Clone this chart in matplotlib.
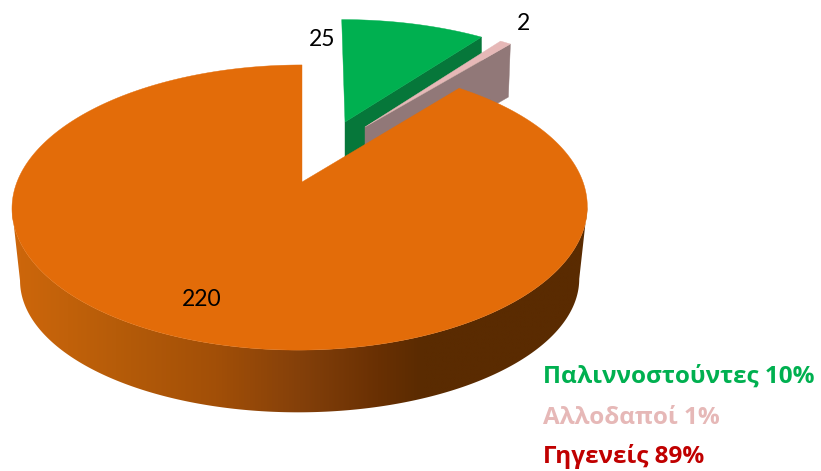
import numpy as np
import matplotlib
matplotlib.use("Agg")
import matplotlib.pyplot as plt
from matplotlib.colors import LinearSegmentedColormap
from matplotlib.patches import Polygon

# ---- data ----
series_names = ["Παλιννοστούντες", "Αλλοδαποί", "Γηγενείς"]
series_values = [25, 2, 220]
series_shares = ["10%", "1%", "89%"]

# ---- style ----
TOP = ["#00B050", "#E6B8B7", "#E36C09"]
WALL = ["#06773A", "#917878", None]
LEGEND = ["#00B050", "#E6B8B7", "#C00000"]
BODY_FONT = ["Lato", "Open Sans", "DejaVu Sans"]
LEGEND_FONT = ["Open Sans", "DejaVu Sans"]

# perspective projection of the disc (pixel layout)
APEX_X, CX, CY = 302.0, 300.0, 182.0
RX, RY, K = 283.0, 138.0, 0.179
# lower rim of the main slice
LOW_SX, LOW_SY, LOW_Y0 = 0.972, 0.93, 256.0


def project(theta, sx=1.0, sy=1.0, cy=CY):
    """theta: clockwise from 12 o'clock, radians."""
    u, v = np.sin(theta), np.cos(theta)
    w = 1 + K * v
    # the rim's top sits above the apex, the widest points around the ellipse centre
    return CX + (APEX_X - CX) * v + RX * sx * u / w, cy - RY * sy * v / w


def exploded(theta, apex, sx, sy, shear):
    x, y = project(theta)
    dx, dy = x - APEX_X, y - CY
    return apex[0] + sx * dx + shear * dy, apex[1] + sy * dy


fig = plt.figure(figsize=(8.21, 4.71), dpi=100)
ax = fig.add_axes([0, 0, 1, 1])
ax.set_xlim(0, 821)
ax.set_ylim(471, 0)
ax.axis("off")

fractions = np.array(series_values, dtype=float) / sum(series_values)
edges = np.concatenate([[0], np.cumsum(fractions)]) * 2 * np.pi

layout = [
    dict(apex=(345.0, 122.0), sx=0.95, sy=0.875, shear=0.028, depth=50.0),
    dict(apex=(365.0, 127.0), sx=0.925, sy=0.885, shear=0.0, depth=53.0),
]

# exploded small slices
for i, cfg in enumerate(layout):
    t = np.linspace(edges[i], edges[i + 1], 40)
    x, y = exploded(t, cfg["apex"], cfg["sx"], cfg["sy"], cfg["shear"])
    ax_, ay_ = cfg["apex"]
    d = cfg["depth"]
    # cut face on the clockwise side, extruded downward
    wall = [(ax_, ay_), (x[-1], y[-1]), (x[-1] - 2 * (i == 1), y[-1] + d),
            (ax_, ay_ + d)]
    ax.add_patch(Polygon(wall, closed=True, fc=WALL[i], ec=WALL[i], lw=0.3, zorder=2 + i * 2))
    top = np.column_stack([np.r_[ax_, x], np.r_[ay_, y]])
    ax.add_patch(Polygon(top, closed=True, fc=TOP[i], ec=TOP[i], lw=0.3, zorder=3 + i * 2))

# main slice: shaded rim clipped from a horizontal gradient, then the top
cmap = LinearSegmentedColormap.from_list(
    "rim",
    [(0.00, "#CC660B"), (0.17, "#B65C09"), (0.35, "#A24F07"), (0.50, "#84400A"),
     (0.64, "#693003"), (0.72, "#5A2B01"), (1.00, "#5A2B01")],
)
t = np.linspace(edges[2], edges[3], 800)
xt, yt = project(t)
xb, yb = project(t, sx=LOW_SX, sy=LOW_SY, cy=LOW_Y0)
# silhouette: upper rim between its extreme x points, then the lower rim back
it0, it1 = np.argmax(xt), np.argmin(xt)
ib0, ib1 = np.argmax(xb), np.argmin(xb)
rim_outline = np.column_stack([np.r_[xt[it0:it1 + 1], xb[ib0:ib1 + 1][::-1]],
                               np.r_[yt[it0:it1 + 1], yb[ib0:ib1 + 1][::-1]]])
rim_clip = Polygon(rim_outline, closed=True, transform=ax.transData, fc="none", ec="none")
ax.add_patch(rim_clip)
gradient = np.linspace(0, 1, 256).reshape(1, -1)
img = ax.imshow(gradient, cmap=cmap, extent=(20, 580, 430, 150), aspect="auto",
                interpolation="bilinear", zorder=6)
left_fill = ax.imshow(gradient[:, :1], cmap=cmap, vmin=0, vmax=1, extent=(0, 20, 430, 150),
                      aspect="auto", zorder=6)
right_fill = ax.imshow(gradient[:, -1:], cmap=cmap, vmin=0, vmax=1, extent=(580, 600, 430, 150),
                       aspect="auto", zorder=6)
for im in (img, left_fill, right_fill):
    im.set_clip_path(rim_clip)
ax.set_xlim(0, 821)
ax.set_ylim(471, 0)

main = np.column_stack([np.r_[APEX_X, xt], np.r_[CY, yt]])
ax.add_patch(Polygon(main, closed=True, fc=TOP[2], ec=TOP[2], lw=0.3, zorder=7))

# value labels
label_pos = [(322, 39), (523, 24), (202, 300)]
for value, (lx, ly) in zip(series_values, label_pos):
    ax.text(lx, ly, str(value), ha="center", va="center", fontsize=16.5, color="black",
            family=BODY_FONT, zorder=9)

# legend
baselines = [383, 424, 463]
for name, share, colour, base in zip(series_names, series_shares, LEGEND, baselines):
    ax.text(543, base, f"{name} {share}", ha="left", va="baseline", fontsize=17.5,
            fontweight="bold", color=colour, family=LEGEND_FONT, zorder=9)

fig.savefig("out.png", dpi=100, facecolor="white")
